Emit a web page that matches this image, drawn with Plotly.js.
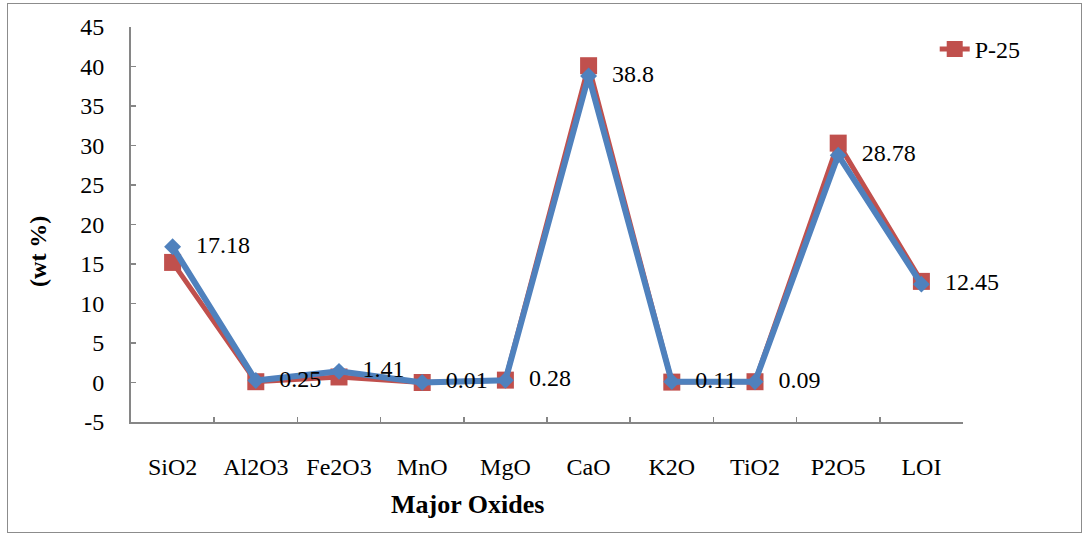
<!DOCTYPE html>
<html>
<head>
<meta charset="utf-8">
<script src="https://cdn.plot.ly/plotly-3.0.1.min.js"></script>
<style>
  html, body { margin: 0; padding: 0; background: #fff; }
  #chart { width: 1084px; height: 536px; }
  #frame { position: absolute; left: 7px; top: 3px; width: 1073px; height: 528px; border: 1.5px solid #8c8c8c; pointer-events: none; }
</style>
</head>
<body>
<div id="chart"></div>
<div id="frame"></div>
<script>
const categories = ["SiO2", "Al2O3", "Fe2O3", "MnO", "MgO", "CaO", "K2O", "TiO2", "P2O5", "LOI"];
const p25Values = [15.2, 0.1, 0.7, 0.0, 0.3, 40.1, 0.05, 0.1, 30.3, 12.8];
const sampleValues = [17.18, 0.25, 1.41, 0.01, 0.28, 38.8, 0.11, 0.09, 28.78, 12.45];
const sampleLabels = ["17.18", "0.25", "1.41", "0.01", "0.28", "38.8", "0.11", "0.09", "28.78", "12.45"];
const yTickVals = [-5, 0, 5, 10, 15, 20, 25, 30, 35, 40, 45];

const FONT = "Times New Roman, Liberation Serif, Tinos, Times, DejaVu Serif, serif";
const RED = "#C0504D";
const BLUE = "#4F81BD";
const GRAY = "#868686";

const traces = [
  {
    x: categories, y: p25Values, name: "P-25", type: "scatter", mode: "lines+markers",
    line: { color: RED, width: 5 },
    marker: { symbol: "square", size: 17, color: RED },
    showlegend: true
  },
  {
    x: categories, y: sampleValues, name: "Sample", type: "scatter", mode: "lines+markers",
    line: { color: BLUE, width: 6 },
    marker: { symbol: "diamond", size: 13, color: BLUE },
    showlegend: false
  },
  {
    x: categories, y: sampleValues, type: "scatter", mode: "markers+text",
    text: sampleLabels, textposition: "middle right", cliponaxis: false,
    textfont: { family: FONT, size: 24, color: "#000" },
    marker: { size: 36, opacity: 0, color: BLUE },
    showlegend: false, hoverinfo: "skip"
  }
];

const layout = {
  width: 1084, height: 536,
  margin: { l: 131, r: 121, t: 27, b: 114 },
  paper_bgcolor: "#fff", plot_bgcolor: "#fff",
  font: { family: FONT, size: 24, color: "#000" },
  xaxis: {
    type: "category", tickson: "boundaries", ticks: "inside", ticklen: 5, tickwidth: 1.5, tickcolor: GRAY,
    showline: true, linecolor: GRAY, linewidth: 2, showgrid: false, zeroline: false,
    tickfont: { family: FONT, size: 24, color: "#000" }, ticklabelstandoff: 22,
    range: [-0.5, 9.5], fixedrange: true
  },
  yaxis: {
    range: [-5, 45], tickvals: yTickVals, ticktext: yTickVals.map(String),
    ticks: "inside", ticklen: 5, tickwidth: 1.5, tickcolor: GRAY,
    showline: true, linecolor: GRAY, linewidth: 2, showgrid: false, zeroline: false,
    tickfont: { family: FONT, size: 24, color: "#000" }, ticklabelstandoff: 20
  },
  showlegend: true,
  legend: {
    x: 0.966, y: 1.0, xanchor: "left", yanchor: "top",
    font: { family: FONT, size: 24, color: "#000" }, bgcolor: "rgba(0,0,0,0)"
  },
  annotations: [
    { text: "<b>Major Oxides</b>", xref: "paper", yref: "paper", x: 0.404, y: -0.21,
      xanchor: "center", yanchor: "middle", showarrow: false, font: { family: FONT, size: 26, color: "#000" } },
    { text: "<b>(wt %)</b>", xref: "paper", yref: "paper", x: -0.1118, y: 0.433, textangle: -90,
      xanchor: "center", yanchor: "middle", showarrow: false, font: { family: FONT, size: 24, color: "#000" } }
  ]
};

Plotly.newPlot("chart", traces, layout, { displayModeBar: false, staticPlot: true });
</script>
</body>
</html>
